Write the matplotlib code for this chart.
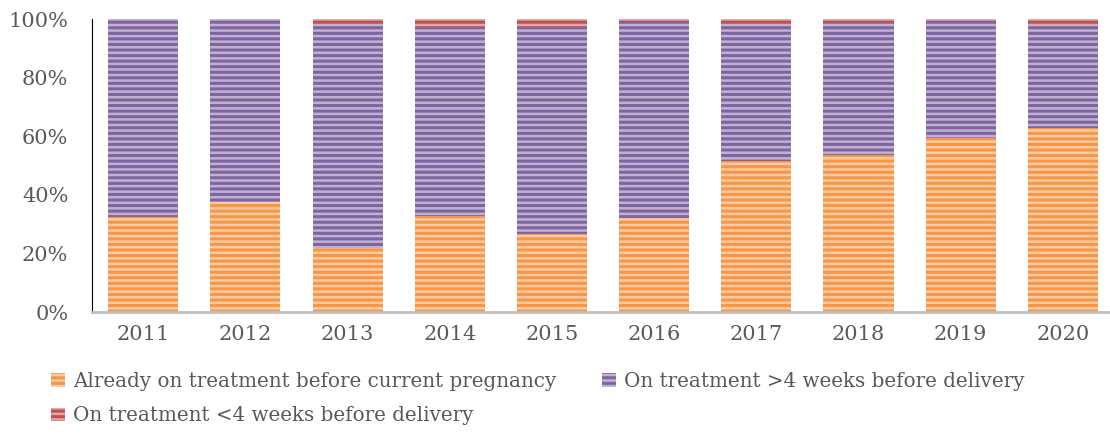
import matplotlib
matplotlib.use("Agg")
import matplotlib.pyplot as plt
import numpy as np

years = ["2011", "2012", "2013", "2014", "2015", "2016", "2017", "2018", "2019", "2020"]
already_on = [32.3, 37.4, 21.8, 32.8, 26.7, 32.2, 51.5, 53.7, 59.4, 62.8]
late_start = [0.0, 0.0, 1.7, 2.8, 2.8, 0.9, 1.7, 1.5, 0.6, 2.0]
early_start = [100 - a - b for a, b in zip(already_on, late_start)]

labels = ["Already on treatment before current pregnancy",
          "On treatment >4 weeks before delivery",
          "On treatment <4 weeks before delivery"]
colors = ["#F79646", "#8064A2", "#C0504D"]

plt.rcParams["font.family"] = ["DejaVu Serif"]
plt.rcParams["hatch.linewidth"] = 1.8

fig = plt.figure(figsize=(11.1, 4.34), dpi=100)
ax = fig.add_axes([0.0829, 0.281, 0.9207, 0.675])

x = np.arange(len(years))
bottom = np.zeros(len(years))
handles = []
for vals, col, lab in zip([already_on, early_start, late_start], colors, labels):
    b = ax.bar(x, vals, 0.685, bottom=bottom, color=col, edgecolor=(1, 1, 1, 0.5),
               linewidth=0, hatch="---", label=lab)
    handles.append(b)
    bottom += np.array(vals)

ax.set_xlim(-0.5, len(years) - 0.5)
ax.set_ylim(0, 100)
ax.set_yticks(range(0, 101, 20))
ax.set_yticklabels([f"{v}%" for v in range(0, 101, 20)])
ax.set_xticks(x)
ax.set_xticklabels(years)
ax.tick_params(length=0, labelsize=15, colors="#595959")
ax.tick_params(axis="x", pad=9)
ax.tick_params(axis="y", pad=17)

for s in ["top", "right"]:
    ax.spines[s].set_visible(False)
ax.spines["left"].set_color("black")
ax.spines["left"].set_linewidth(0.8)
ax.spines["bottom"].set_color("#BFBFBF")
ax.spines["bottom"].set_linewidth(2)

leg = fig.legend([handles[0], handles[2], handles[1]], [labels[0], labels[2], labels[1]],
                 ncol=2, loc="upper left", bbox_to_anchor=(0.03, 0.185), frameon=False,
                 fontsize=14.3, handlelength=0.7, handleheight=0.7, handletextpad=0.4,
                 columnspacing=2.3, labelspacing=0.8, labelcolor="#595959")

fig.savefig("out.png", dpi=100)
